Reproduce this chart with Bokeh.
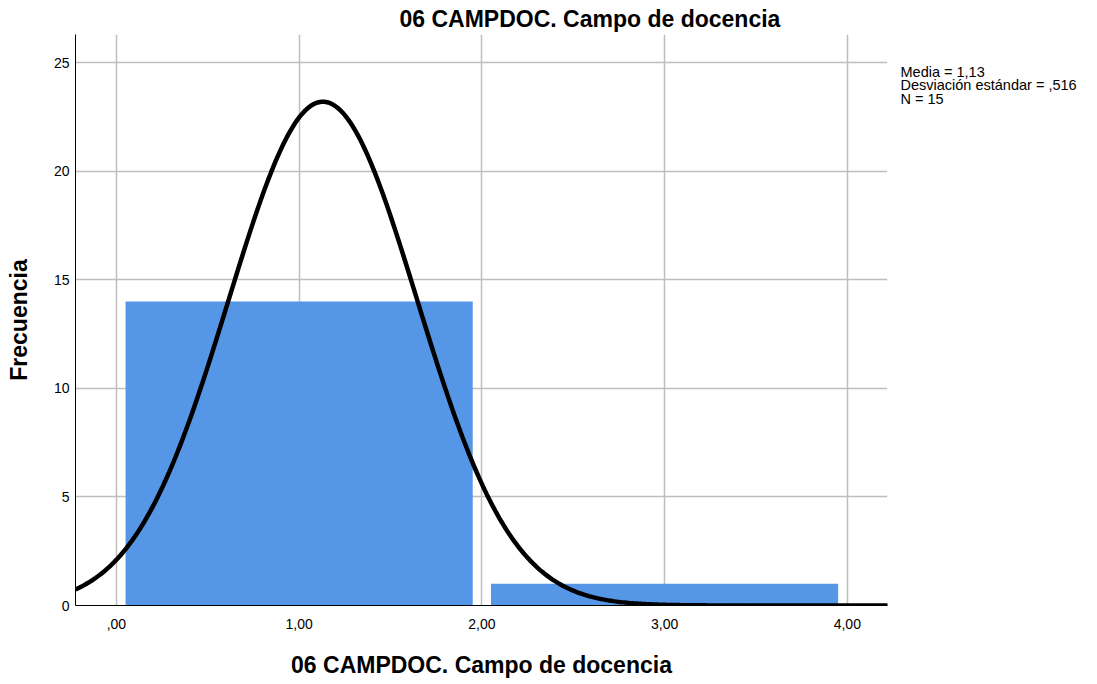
import numpy as np
from bokeh.plotting import figure
from bokeh.layouts import row
from bokeh.models import Range1d, FixedTicker
from bokeh.core.properties import value
from bokeh.embed import file_html
from bokeh.resources import INLINE

# Data
bin_centers = [1.0, 3.0]
counts = [14, 1]
bin_width = 2.0
mean_val = 1.13
sd_val = 0.516
n_val = 15
x_ticks = [0, 1, 2, 3, 4]
x_tick_labels = [",00", "1,00", "2,00", "3,00", "4,00"]
y_ticks = [0, 5, 10, 15, 20, 25]
title_text = "06 CAMPDOC. Campo de docencia"
x_label = "06 CAMPDOC. Campo de docencia"
y_label = "Frecuencia"
stats_lines = ["Media = 1,13", "Desviación estándar = ,516", "N = 15"]

FONT = "Liberation Sans"
TOP, FH, BOT = 34, 571, 76

p = figure(frame_width=812, frame_height=FH, output_backend="svg", toolbar_location=None,
           x_range=Range1d(-0.224, 4.22), y_range=Range1d(0, 26.29),
           min_border_left=75, min_border_right=2, min_border_top=TOP,
           min_border_bottom=BOT)
p.outline_line_color = None
p.background_fill_color = "white"
p.border_fill_color = "white"

# title
p.title.text = title_text
p.title.align = "left"
p.title.offset = 324
p.title.standoff = 5
p.title.text_font = FONT
p.title.text_font_size = "23px"
p.title.text_font_style = "bold"
p.title.text_color = "black"

# grid
p.xgrid.ticker = FixedTicker(ticks=x_ticks)
p.ygrid.ticker = FixedTicker(ticks=y_ticks)
for g in (p.xgrid, p.ygrid):
    g.grid_line_color = "#BEBEBE"
    g.grid_line_width = 1.5

# bars
p.vbar(x=bin_centers, top=counts, bottom=0, width=bin_width * 0.95,
       fill_color="#5596E6", line_color=None)

# fitted normal curve
xs = np.linspace(-0.224, 4.224, 400)
ys = n_val * bin_width / (sd_val * np.sqrt(2 * np.pi)) * np.exp(-0.5 * ((xs - mean_val) / sd_val) ** 2)
p.line(xs, ys, line_color="black", line_width=4.5)

# axes
p.xaxis.ticker = FixedTicker(ticks=x_ticks)
p.xaxis.major_label_overrides = {t: l for t, l in zip(x_ticks, x_tick_labels)}
p.yaxis.ticker = FixedTicker(ticks=y_ticks)
for ax in (p.xaxis, p.yaxis):
    ax.axis_line_color = "black"
    ax.axis_line_width = 1
    ax.major_tick_line_color = None
    ax.minor_tick_line_color = None
    ax.major_tick_out = 0
    ax.major_tick_in = 0
    ax.minor_tick_out = 0
    ax.major_label_text_font = FONT
    ax.major_label_text_font_size = "14px"
    ax.major_label_text_color = "black"
    ax.axis_label_text_font = FONT
    ax.axis_label_text_font_size = "23px"
    ax.axis_label_text_font_style = "bold"
    ax.axis_label_text_color = "black"
p.xaxis.axis_label = x_label
p.yaxis.axis_label = y_label
p.xaxis.major_label_standoff = 13
p.xaxis.axis_label_standoff = 20
p.yaxis.major_label_standoff = 6
p.yaxis.axis_label_standoff = 19

# side panel with the summary statistics (frame aligned with main frame)
SW = 200
side = figure(frame_width=SW, frame_height=FH, output_backend="svg", toolbar_location=None,
              x_range=Range1d(0, SW), y_range=Range1d(TOP + FH, TOP),
              x_axis_type=None, y_axis_type=None,
              min_border_left=0, min_border_right=0,
              min_border_top=TOP, min_border_bottom=BOT)
side.outline_line_color = None
side.xgrid.visible = False
side.ygrid.visible = False
side.text(x=[11] * len(stats_lines), y=[71 + 13.5 * i for i in range(len(stats_lines))],
          text=stats_lines, text_align="left", text_baseline="middle",
          text_font=value(FONT), text_font_size="14.5px", text_color="black")

layout = row(p, side, spacing=0)
open("out.html", "w").write(file_html(layout, INLINE))
